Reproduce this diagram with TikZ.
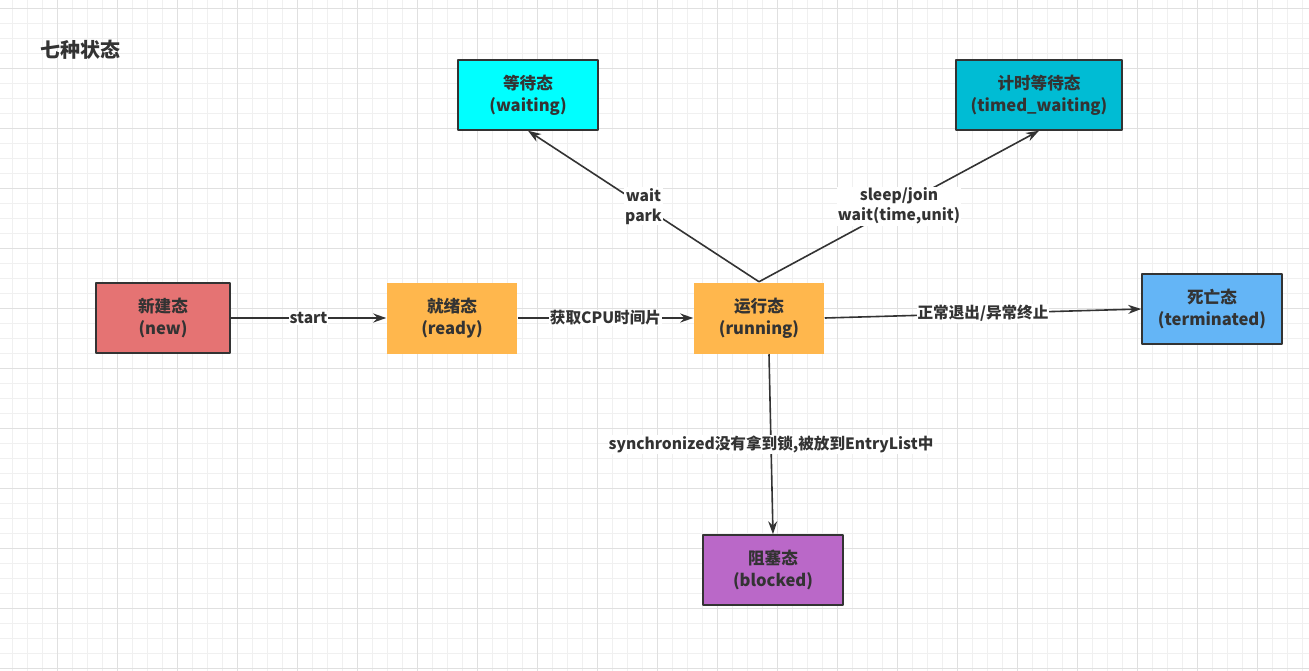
\documentclass[tikz,border=0pt]{standalone}
\usepackage{fontspec}
\setmainfont{Noto Sans CJK SC}
\usetikzlibrary{arrows.meta}
\definecolor{inkgray}{HTML}{333333}
\definecolor{gridminor}{HTML}{F0F0F0}
\definecolor{gridmajor}{HTML}{E0E0E0}
\definecolor{newred}{HTML}{E57373}
\definecolor{runorange}{HTML}{FFB74D}
\definecolor{waitcyan}{HTML}{00FFFF}
\definecolor{timedcyan}{HTML}{00BCD4}
\definecolor{deadblue}{HTML}{64B5F6}
\definecolor{blockpurple}{HTML}{BA68C8}

\begin{document}
\begin{tikzpicture}[
    x=1pt, y=-1pt,
    line join=round,
    state/.style={draw=inkgray, line width=1.5pt, align=center, inner sep=0pt,
        minimum height=70pt, text=inkgray,
        font=\bfseries\fontsize{16.6}{22}\selectfont},
    flow/.style={draw=inkgray, line width=1.6pt,
        -{Stealth[length=13pt,width=9pt]}},
    tag/.style={fill=white, inner sep=1pt, align=center, text=inkgray,
        font=\bfseries\fontsize{15.6}{20}\selectfont}
]
\useasboundingbox[fill=white] (0,0) rectangle (1309,671);

% 0. Grid paper
\foreach \gx in {0,...,86} \draw[gridminor, line width=0.8pt] ({12.7+15*\gx},0) -- ++(0,671);
\foreach \gy in {0,...,44} \draw[gridminor, line width=0.8pt] (0,{8.3+15*\gy}) -- ++(1309,0);
\foreach \gx in {0,...,21} \draw[gridmajor, line width=0.8pt] ({57.7+60*\gx},0) -- ++(0,671);
\foreach \gy in {0,...,11} \draw[gridmajor, line width=0.8pt] (0,{8.3+60*\gy}) -- ++(1309,0);

% 1. Title
\node[text=inkgray, font=\bfseries\fontsize{20}{24}\selectfont, anchor=west] (title) at (37,50) {七种状态};

% 2. States
\node[state, fill=newred, minimum width=134pt] (new) at (163,318) {新建态\\(new)};
\node[state, draw=none, fill=runorange, minimum width=130pt, minimum height=71pt] (ready) at (452,318) {就绪态\\(ready)};
\node[state, draw=none, fill=runorange, minimum width=130pt, minimum height=71pt] (running) at (759,318) {运行态\\(running)};
\node[state, fill=waitcyan, minimum width=140pt] (waiting) at (528,95) {等待态\\(waiting)};
\node[state, fill=timedcyan, minimum width=166pt] (timed) at (1039,95) {计时等待态\\(timed\_waiting)};
\node[state, fill=deadblue, minimum width=140pt] (dead) at (1212,309) {死亡态\\(terminated)};
\node[state, fill=blockpurple, minimum width=140pt] (blocked) at (773,570) {阻塞态\\(blocked)};

% 3. Transitions
\draw[flow] (new.east) -- node[tag] {start} (ready.west);
\draw[flow] (ready.east) -- node[tag] {获取CPU时间片} (running.west);
\draw[flow] (running.east) -- node[tag] {正常退出/异常终止} (dead.west);
\draw[flow] (running.north) -- node[tag] {wait\\park} (waiting.south);
\draw[flow] (running.north) -- node[tag] {sleep/join\\wait(time,unit)} (timed.south);
\draw[flow] ([xshift=10pt]running.south) -- node[tag] {synchronized没有拿到锁,被放到EntryList中} (blocked.north);
\end{tikzpicture}
\end{document}
